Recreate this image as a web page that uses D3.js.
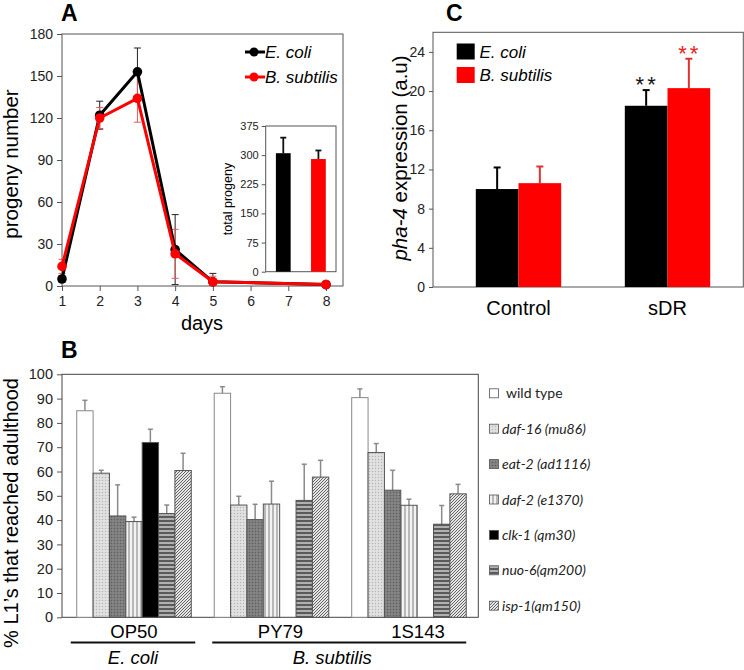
<!DOCTYPE html>
<html><head><meta charset="utf-8">
<script src="https://cdn.jsdelivr.net/npm/d3@7"></script>
<style>body{margin:0;background:#fff} svg{display:block;font-family:"Liberation Sans",Arial,sans-serif}</style>
</head><body><svg id="c" width="744" height="670"></svg>
<script>
// ---------- DATA ----------
// Panel A
const days = [1, 2, 3, 4, 5, 8];
const dayTicks = [1, 2, 3, 4, 5, 6, 7, 8];
const progenyTicks = [0, 30, 60, 90, 120, 150, 180];
const ecoliProgeny = [5, 122, 153, 26, 3, 1];
const ecoliProgenyErr = [2, 10, 17, 25, 6, 0];
const bsubProgeny = [14, 120, 134, 23, 3, 1];
const bsubProgenyErr = [5, 7.5, 17, 17.5, 4, 0];
const hosts = ["E. coli", "B. subtilis"];
const totalProgeny = [305, 290];
const totalProgenyErr = [40, 22];
const totalTicks = [0, 75, 150, 225, 300, 375];
// Panel C
const conditions = ["Control", "sDR"];
const pha4Ecoli = [10.0, 18.5];
const pha4EcoliErr = [2.2, 1.6];
const pha4Bsub = [10.6, 20.3];
const pha4BsubErr = [1.7, 3.0];
const pha4Signif = ["", "**"];
const pha4Ticks = [0, 4, 8, 12, 16, 20, 24];
// Panel B
const bacteria = ["OP50", "PY79", "1S143"];
const bacteriaSpecies = ["E. coli", "B. subtilis"];
const wormStrains = ["wild type", "daf-16 (mu86)", "eat-2 (ad1116)", "daf-2 (e1370)", "clk-1 (qm30)", "nuo-6(qm200)", "isp-1(qm150)"];
const adultOP50 = [85.0, 59.3, 41.7, 39.4, 71.9, 42.7, 60.4];
const adultOP50Err = [4.3, 1.2, 12.8, 1.8, 5.5, 3.5, 7.1];
const adultPY79 = [92.2, 46.2, 40.2, 46.6, null, 48.1, 57.7];
const adultPY79Err = [2.7, 3.6, 6.3, 9.4, null, 14.9, 6.9];
const adult1S143 = [90.4, 67.8, 52.3, 46.1, null, 38.3, 50.8];
const adult1S143Err = [3.6, 3.7, 8.2, 2.5, null, 7.7, 3.9];
const adultTicks = [0, 10, 20, 30, 40, 50, 60, 70, 80, 90, 100];

// ---------- SETUP ----------
const svg = d3.select("#c");
const defs = svg.append("defs");
const RED = "#ff0000";

function pat(id, w, h, bg, draw) {
  const p = defs.append("pattern").attr("id", id).attr("patternUnits", "userSpaceOnUse")
    .attr("width", w).attr("height", h);
  p.append("rect").attr("width", w).attr("height", h).attr("fill", bg);
  draw(p);
}
pat("p-daf16", 3, 3, "#dcdcdc", p => {
  p.append("rect").attr("x", 0).attr("y", 0).attr("width", 1).attr("height", 1).attr("fill", "#b5b5b5");
  p.append("rect").attr("x", 1.5).attr("y", 1.5).attr("width", 1).attr("height", 1).attr("fill", "#f2f2f2");
});
pat("p-eat2", 3, 3, "#7c7c7c", p => {
  p.append("rect").attr("x", 0).attr("y", 0).attr("width", 1).attr("height", 1).attr("fill", "#5e5e5e");
  p.append("rect").attr("x", 1.5).attr("y", 1.5).attr("width", 1).attr("height", 1).attr("fill", "#9a9a9a");
});
pat("p-daf2", 4, 4, "#f2f2f2", p => {
  p.append("rect").attr("x", 0).attr("y", 0).attr("width", 2).attr("height", 4).attr("fill", "#b8b8b8");
});
pat("p-nuo6", 4, 4, "#b0b0b0", p => {
  p.append("rect").attr("x", 0).attr("y", 0).attr("width", 4).attr("height", 2).attr("fill", "#5a5a5a");
});
pat("p-isp1", 3, 3, "#e6e6e6", p => {
  p.append("path").attr("d", "M0,3 L3,0 M-1,1 L1,-1 M2,4 L4,2").attr("stroke", "#555").attr("stroke-width", 0.9);
});
const strainFills = ["#ffffff", "url(#p-daf16)", "url(#p-eat2)", "url(#p-daf2)", "#000000", "url(#p-nuo6)", "url(#p-isp1)"];

function styleAxis(g, size) {
  g.selectAll("text").attr("font-size", size).attr("fill", "#222");
  g.selectAll("line").attr("stroke", "#555");
  g.select(".domain").remove();
}
function panelLabel(t, x, y) {
  svg.append("text").attr("x", x).attr("y", y).attr("font-size", 23).attr("font-weight", "bold").text(t);
}

// ---------- PANEL A ----------
panelLabel("A", 61, 21);
const xA = d3.scaleLinear().domain([1, 8.45]).range([62, 343]);
const yA = d3.scaleLinear().domain([0, 180]).range([286, 34]);
const gA = svg.append("g");
gA.append("rect").attr("x", xA.range()[0]).attr("y", yA.range()[1])
  .attr("width", xA.range()[1] - xA.range()[0]).attr("height", yA.range()[0] - yA.range()[1])
  .attr("fill", "none").attr("stroke", "#555").attr("stroke-width", 1);
gA.append("g").attr("transform", `translate(${xA.range()[0]},0)`)
  .call(d3.axisLeft(yA).tickValues(progenyTicks).tickSize(5).tickPadding(4)).call(g => styleAxis(g, 14));
gA.append("g").attr("transform", `translate(0,${yA.range()[0]})`)
  .call(d3.axisBottom(xA).tickValues(dayTicks).tickSize(5).tickPadding(5)).call(g => styleAxis(g, 14));
gA.append("text").attr("x", 202).attr("y", 330).attr("text-anchor", "middle").attr("font-size", 20).text("days");
gA.append("text").attr("transform", "translate(18,164) rotate(-90)").attr("text-anchor", "middle")
  .attr("font-size", 20.5).text("progeny number");

const seriesA = [
  { name: hosts[0], vals: ecoliProgeny, errs: ecoliProgenyErr, color: "#000", errColor: "#222" },
  { name: hosts[1], vals: bsubProgeny, errs: bsubProgenyErr, color: RED, errColor: "#e35a5a" }
];
seriesA.forEach(s => {
  const pts = days.map((d, i) => ({ d, v: s.vals[i], e: s.errs[i] }));
  const eg = gA.append("g").attr("stroke", s.errColor).attr("stroke-width", 1);
  pts.filter(p => p.e > 0).forEach(p => {
    const x = xA(p.d);
    eg.append("line").attr("x1", x).attr("x2", x).attr("y1", yA(p.v + p.e)).attr("y2", yA(Math.max(0, p.v - p.e)));
    eg.append("line").attr("x1", x - 3.5).attr("x2", x + 3.5).attr("y1", yA(p.v + p.e)).attr("y2", yA(p.v + p.e));
    if (p.v - p.e > 0)
      eg.append("line").attr("x1", x - 3.5).attr("x2", x + 3.5).attr("y1", yA(p.v - p.e)).attr("y2", yA(p.v - p.e));
  });
});
seriesA.forEach(s => {
  const pts = days.map((d, i) => ({ d, v: s.vals[i] }));
  gA.append("path").datum(pts).attr("fill", "none").attr("stroke", s.color).attr("stroke-width", 3)
    .attr("stroke-linejoin", "round")
    .attr("d", d3.line().x(p => xA(p.d)).y(p => yA(p.v)));
  gA.selectAll(null).data(pts).join("circle").attr("cx", p => xA(p.d)).attr("cy", p => yA(p.v))
    .attr("r", 4.8).attr("fill", s.color);
});
// legend A
seriesA.forEach((s, i) => {
  const y = 52 + i * 25;
  gA.append("line").attr("x1", 245).attr("x2", 265).attr("y1", y).attr("y2", y).attr("stroke", s.color).attr("stroke-width", 3);
  gA.append("circle").attr("cx", 254).attr("cy", y).attr("r", 4.5).attr("fill", s.color);
  gA.append("text").attr("x", 265).attr("y", y + 6).attr("font-size", 17).attr("font-style", "italic").text(s.name);
});
// inset
const xI = d3.scaleBand().domain(hosts).range([265.7, 336]).paddingInner(0.58).paddingOuter(0.29);
const yI = d3.scaleLinear().domain([0, 375]).range([271.7, 126]);
const gI = svg.append("g");
gI.append("rect").attr("x", 265.7).attr("y", yI(375)).attr("width", 336 - 265.7).attr("height", yI(0) - yI(375))
  .attr("fill", "#fff").attr("stroke", "#555").attr("stroke-width", 1);
gI.append("g").attr("transform", "translate(265.7,0)")
  .call(d3.axisLeft(yI).tickValues(totalTicks).tickSize(4).tickPadding(3)).call(g => styleAxis(g, 11));
gI.append("text").attr("transform", "translate(232,199) rotate(-90)").attr("text-anchor", "middle")
  .attr("font-size", 12.5).text("total progeny");
hosts.forEach((h, i) => {
  const x = xI(h), w = xI.bandwidth(), cx = x + w / 2;
  gI.append("line").attr("x1", cx).attr("x2", cx).attr("y1", yI(totalProgeny[i])).attr("y2", yI(totalProgeny[i] + totalProgenyErr[i]))
    .attr("stroke", "#111").attr("stroke-width", 1.8);
  gI.append("line").attr("x1", cx - 3).attr("x2", cx + 3).attr("y1", yI(totalProgeny[i] + totalProgenyErr[i]))
    .attr("y2", yI(totalProgeny[i] + totalProgenyErr[i])).attr("stroke", "#111").attr("stroke-width", 1.8);
  gI.append("rect").attr("x", x).attr("y", yI(totalProgeny[i])).attr("width", w)
    .attr("height", yI(0) - yI(totalProgeny[i])).attr("fill", i === 0 ? "#000" : RED);
});

// ---------- PANEL C ----------
panelLabel("C", 446, 21);
const xC = d3.scaleBand().domain(conditions).range([446, 740]).paddingInner(0.427).paddingOuter(0.2);
const yC = d3.scaleLinear().domain([0, 26]).range([287, 32.3]);
const gC = svg.append("g");
gC.append("rect").attr("x", 433).attr("y", yC(26)).attr("width", 743.3 - 433).attr("height", yC(0) - yC(26))
  .attr("fill", "none").attr("stroke", "#555").attr("stroke-width", 1);
gC.append("g").attr("transform", "translate(433,0)")
  .call(d3.axisLeft(yC).tickValues(pha4Ticks).tickSize(4).tickPadding(4)).call(g => styleAxis(g, 14));
const seriesC = [
  { vals: pha4Ecoli, errs: pha4EcoliErr, color: "#000", errColor: "#000", sigColor: "#111" },
  { vals: pha4Bsub, errs: pha4BsubErr, color: RED, errColor: "#e03030", sigColor: "#e82020" }
];
conditions.forEach((c, ci) => {
  const bw = xC.bandwidth() / 2;
  seriesC.forEach((s, si) => {
    const x = xC(c) + si * bw, cx = x + bw / 2, v = s.vals[ci], top = v + s.errs[ci];
    gC.append("line").attr("x1", cx).attr("x2", cx).attr("y1", yC(v)).attr("y2", yC(top)).attr("stroke", s.errColor).attr("stroke-width", 2);
    gC.append("line").attr("x1", cx - 3.5).attr("x2", cx + 3.5).attr("y1", yC(top)).attr("y2", yC(top)).attr("stroke", s.errColor).attr("stroke-width", 2);
    gC.append("rect").attr("x", x).attr("y", yC(v)).attr("width", bw).attr("height", yC(0) - yC(v)).attr("fill", s.color);
    if (pha4Signif[ci])
      gC.append("text").attr("x", cx + 1).attr("y", yC(top) + 2).attr("text-anchor", "middle")
        .attr("font-size", 22).attr("letter-spacing", 3).attr("fill", s.sigColor).text(pha4Signif[ci]);
  });
  gC.append("text").attr("x", xC(c) + xC.bandwidth() / 2).attr("y", 315).attr("text-anchor", "middle")
    .attr("font-size", 20).text(c);
});
const lgC = [{ name: hosts[0], color: "#000" }, { name: hosts[1], color: RED }];
lgC.forEach((l, i) => {
  const y = 43.5 + i * 23.5;
  gC.append("rect").attr("x", 456.7).attr("y", y).attr("width", 18).attr("height", 16).attr("fill", l.color);
  gC.append("text").attr("x", 479.5).attr("y", y + 14).attr("font-size", 17).attr("font-style", "italic").text(l.name);
});
const yLabC = gC.append("text").attr("transform", "translate(407,158) rotate(-90)").attr("text-anchor", "middle").attr("font-size", 20.5);
yLabC.append("tspan").attr("font-style", "italic").text("pha-4");
yLabC.append("tspan").text(" expression (a.u)");

// ---------- PANEL B ----------
panelLabel("B", 61, 358);
const x0 = d3.scaleBand().domain(bacteria).range([62, 478.3]).paddingInner(0.167).paddingOuter(0.0975).align(0.55);
const x1 = d3.scaleBand().domain(wormStrains).range([0, x0.bandwidth()]);
const yB = d3.scaleLinear().domain([0, 100]).range([617.3, 374.3]);
const gB = svg.append("g");
gB.append("rect").attr("x", 62).attr("y", yB(100)).attr("width", 478.3 - 62).attr("height", yB(0) - yB(100))
  .attr("fill", "none").attr("stroke", "#444").attr("stroke-width", 1);
gB.append("g").attr("transform", "translate(62,0)")
  .call(d3.axisLeft(yB).tickValues(adultTicks).tickSize(5).tickPadding(4)).call(g => styleAxis(g, 14.5));
gB.append("text").attr("transform", "translate(17.5,513) rotate(-90)").attr("text-anchor", "middle")
  .attr("font-size", 20).text("% L1\u2019s that reached adulthood");
const adultVals = [adultOP50, adultPY79, adult1S143];
const adultErrs = [adultOP50Err, adultPY79Err, adult1S143Err];
bacteria.forEach((b, bi) => {
  wormStrains.forEach((w, wi) => {
    const v = adultVals[bi][wi];
    if (v == null) return;
    const x = x0(b) + x1(w), bw = x1.bandwidth(), cx = x + bw / 2, top = v + adultErrs[bi][wi];
    gB.append("line").attr("x1", cx).attr("x2", cx).attr("y1", yB(v)).attr("y2", yB(top)).attr("stroke", "#8a8a8a").attr("stroke-width", 1.5);
    gB.append("line").attr("x1", cx - 2.5).attr("x2", cx + 2.5).attr("y1", yB(top)).attr("y2", yB(top)).attr("stroke", "#8a8a8a").attr("stroke-width", 1.5);
    gB.append("rect").attr("x", x).attr("y", yB(v)).attr("width", bw).attr("height", yB(0) - yB(v))
      .attr("fill", strainFills[wi]).attr("stroke", wi === 0 ? "#888" : "#555").attr("stroke-width", 1);
  });
  gB.append("text").attr("x", x0(b) + x0.bandwidth() / 2 + (bi > 0 ? 9 : 0)).attr("y", 638)
    .attr("text-anchor", "middle").attr("font-size", 18.5).text(b);
});
// species underlines
const spanEc = [x0("OP50") - 6, x0("OP50") + x0.bandwidth() + 4];
const spanBs = [x0("PY79") - 2, x0("1S143") + x0.bandwidth()];
[spanEc, spanBs].forEach((s, i) => {
  gB.append("line").attr("x1", s[0]).attr("x2", s[1]).attr("y1", 642.5).attr("y2", 642.5).attr("stroke", "#111").attr("stroke-width", 2);
  gB.append("text").attr("x", (s[0] + s[1]) / 2 - (i ? 7 : 0)).attr("y", 664).attr("text-anchor", "middle")
    .attr("font-size", 18.5).attr("font-style", "italic").text(bacteriaSpecies[i]);
});
// legend B
wormStrains.forEach((w, wi) => {
  const cy = 393.3 + wi * 35.4;
  gB.append("rect").attr("x", 489.5).attr("y", cy - 4.5).attr("width", 9).attr("height", 9)
    .attr("fill", strainFills[wi]).attr("stroke", "#555").attr("stroke-width", 0.8);
  gB.append("text").attr("x", wi === 0 ? 506 : 502).attr("y", cy + 5)
    .attr("font-family", "Lato, 'Open Sans', sans-serif").attr("font-size", 14)
    .attr("font-style", wi === 0 ? "normal" : "italic").attr("fill", "#222").text(w);
});
</script></body></html>
